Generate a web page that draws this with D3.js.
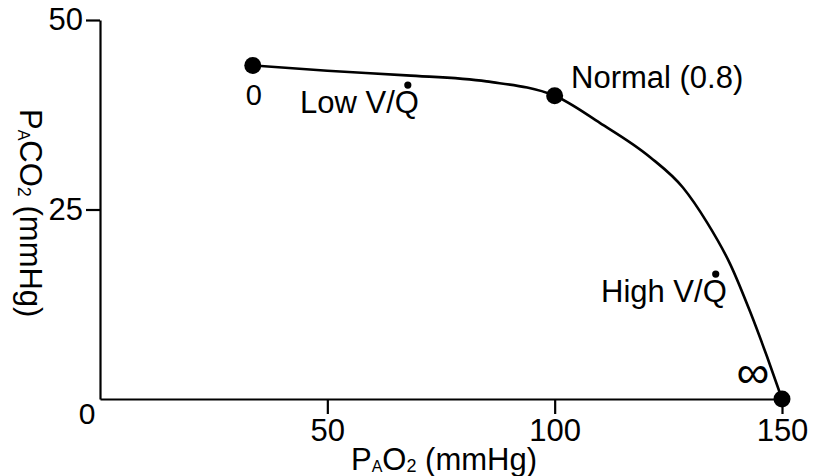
<!DOCTYPE html>
<html>
<head>
<meta charset="utf-8">
<script src="https://cdn.jsdelivr.net/npm/d3@7"></script>
<style>
  body { margin: 0; background: #fff; }
  text { font-family: "Liberation Sans", Arial, Helvetica, sans-serif; fill: #000; }
</style>
</head>
<body>
<div id="chart"></div>
<script>
// O2-CO2 diagram, ventilation/perfusion line
var pao2 = [33.6, 50, 67.4, 85, 100, 110, 121, 128.2, 133.5, 138.6, 143, 146.7, 150];
var paco2 = [44, 43.3, 42.7, 41.9, 40, 36.4, 31.9, 27.9, 23.3, 17.8, 11.5, 5.6, 0];

// marked points: V/Q = 0, normal, infinite
var markX = [33.6, 100, 150];
var markY = [44, 40, 0];

var xTicks = [50, 100, 150];
var yTicks = [25, 50];

var width = 828,
   height = 476;

var svg = d3.select("#chart")
   .append("svg")
   .attr("width", width)
   .attr("height", height);

// scales
var xScale = d3.scaleLinear().domain([0, 150]).range([100, 782]);
var yScale = d3.scaleLinear().domain([0, 50]).range([399, 20]);

// X axis
svg.append("g")
   .attr("transform", "translate(0," + yScale(0) + ")")
   .call(d3.axisBottom(xScale).tickValues(xTicks).tickSizeInner(15).tickSizeOuter(0).tickPadding(5));

// Y axis
svg.append("g")
   .attr("transform", "translate(" + xScale(0) + ",0)")
   .call(d3.axisLeft(yScale).tickValues(yTicks).tickSizeInner(14).tickSizeOuter(0).tickPadding(3));

svg.selectAll(".domain, .tick line")
   .attr("stroke", "#000")
   .attr("stroke-width", 2.2);

svg.selectAll(".tick text")
   .style("font-size", "31px")
   .style("font-family", "'Liberation Sans', Arial, sans-serif")
   .attr("fill", "#000");

// shared zero at origin
svg.append("text")
   .attr("x", xScale(0) - 13)
   .attr("y", yScale(0) + 25)
   .attr("text-anchor", "middle")
   .style("font-size", "30px")
   .text("0");

// axis titles
var xTitle = svg.append("text")
   .attr("x", 351)
   .attr("y", 470)
   .style("font-size", "31px");
xTitle.append("tspan").text("P");
xTitle.append("tspan").attr("dy", 2).style("font-size", "16px").text("A");
xTitle.append("tspan").attr("dy", -2).text("O");
xTitle.append("tspan").attr("dy", 2).style("font-size", "18px").text("2");
xTitle.append("tspan").attr("dy", -2).text(" (mmHg)");

var yTitle = svg.append("text")
   .attr("transform", "translate(20,109) rotate(90)")
   .style("font-size", "31px");
yTitle.append("tspan").text("P");
yTitle.append("tspan").attr("dy", 2).style("font-size", "16px").text("A");
yTitle.append("tspan").attr("dy", -2).text("CO");
yTitle.append("tspan").attr("dy", 2).style("font-size", "18px").text("2");
yTitle.append("tspan").attr("dy", -2).text(" (mmHg)");

// the curve
var curveData = pao2.map(function (d, i) {
   return { x: d, y: paco2[i] };
});

var line = d3.line()
   .x(function (d) { return xScale(d.x); })
   .y(function (d) { return yScale(d.y); })
   .curve(d3.curveMonotoneX);

svg.append("path")
   .datum(curveData)
   .attr("fill", "none")
   .attr("stroke", "#000")
   .attr("stroke-width", 2.6)
   .attr("d", line);

svg.selectAll(".mark")
   .data(markX.map(function (d, i) { return { x: d, y: markY[i] }; }))
   .enter().append("circle")
   .attr("class", "mark")
   .attr("cx", function (d) { return xScale(d.x); })
   .attr("cy", function (d) { return yScale(d.y); })
   .attr("r", 8.5)
   .attr("fill", "#000");

// annotations
svg.append("text")
   .attr("x", xScale(markX[0]) + 1)
   .attr("y", yScale(markY[0]) + 40)
   .attr("text-anchor", "middle")
   .style("font-size", "29px")
   .text("0");

svg.append("text")
   .attr("x", 571)
   .attr("y", 88)
   .style("font-size", "31px")
   .text("Normal (0.8)");

svg.append("text")
   .attr("x", xScale(markX[2]) - 29)
   .attr("y", 388)
   .attr("text-anchor", "middle")
   .style("font-size", "46px")
   .style("font-family", "'DejaVu Sans', sans-serif")
   .style("font-weight", 200)
   .text("\u221E");

// V/Q labels with a dot over the Q
function vqLabel(prefix, x, y, size) {
   var t = svg.append("text")
      .attr("x", x)
      .attr("y", y)
      .style("font-size", size + "px")
      .text(prefix + "V/Q");
   var n = (prefix + "V/Q").length - 1;
   var box = t.node().getExtentOfChar(n);
   svg.append("circle")
      .attr("cx", box.x + box.width / 2 + 1)
      .attr("cy", y - size * 0.9)
      .attr("r", 3.6)
      .attr("fill", "#000");
}

vqLabel("Low ", 300, 113, 31);
vqLabel("High ", 601, 302, 31);
</script>
</body>
</html>
